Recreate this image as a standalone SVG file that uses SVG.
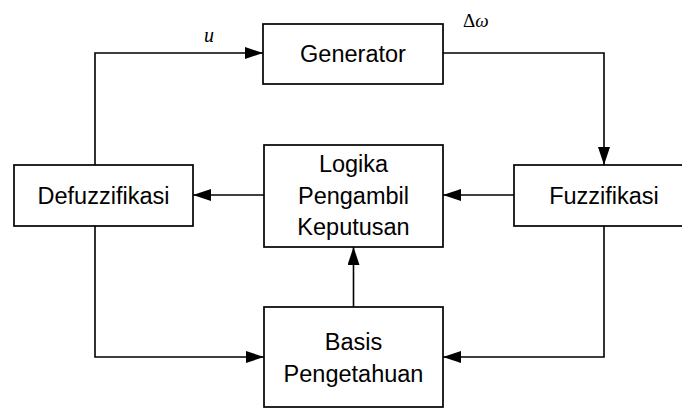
<svg xmlns="http://www.w3.org/2000/svg" width="682" height="408" viewBox="0 0 682 408">
  <style>
    .box { fill: #ffffff; stroke: #000000; stroke-width: 1.7; }
    .lbl { font-family: "Liberation Sans", Arial, sans-serif; font-size: 23.5px; fill: #000000; text-anchor: middle; }
    .sym { font-family: "Liberation Serif", "Times New Roman", serif; font-style: italic; fill: #000000; }
    .wire { fill: none; stroke: #000000; stroke-width: 1.6; }
  </style>
  <defs>
    <marker id="arrow" viewBox="0 0 18 12" refX="18" refY="6" markerWidth="18" markerHeight="12" markerUnits="userSpaceOnUse" orient="auto">
      <path d="M0,0 L18,6 L0,12 Z" fill="#000000"/>
    </marker>
  </defs>
  <rect width="682" height="408" fill="#ffffff"/>

  <!-- signal paths between blocks -->
  <g id="connectors">
    <!-- defuzzifier output u back to the generator -->
    <polyline class="wire" points="95,165 95,53 263,53" marker-end="url(#arrow)"/>
    <!-- generator output to the fuzzifier -->
    <polyline class="wire" points="443,53 604,53 604,165" marker-end="url(#arrow)"/>
    <!-- fuzzifier to inference logic -->
    <line class="wire" x1="514" y1="195" x2="443" y2="195" marker-end="url(#arrow)"/>
    <!-- inference logic to defuzzifier -->
    <line class="wire" x1="264" y1="195" x2="193" y2="195" marker-end="url(#arrow)"/>
    <!-- knowledge base to inference logic -->
    <line class="wire" x1="353.5" y1="307" x2="353.5" y2="247" marker-end="url(#arrow)"/>
    <!-- defuzzifier to knowledge base -->
    <polyline class="wire" points="95,226 95,357 264,357" marker-end="url(#arrow)"/>
    <!-- fuzzifier to knowledge base -->
    <polyline class="wire" points="604,226 604,357 443,357" marker-end="url(#arrow)"/>
    <text class="sym" x="204" y="42" font-size="20">u</text>
    <text class="sym" x="463" y="27" font-size="19"><tspan font-style="normal">Δ</tspan>ω</text>
  </g>

  <g id="generator">
    <rect class="box" x="263" y="24" width="180" height="60"/>
    <text class="lbl" x="353" y="62">Generator</text>
  </g>

  <g id="defuzzifikasi">
    <rect class="box" x="14" y="165" width="179" height="61"/>
    <text class="lbl" x="103.5" y="203.5">Defuzzifikasi</text>
  </g>

  <g id="logika">
    <rect class="box" x="264" y="145" width="179" height="102"/>
    <text class="lbl" x="353.5" y="172">Logika</text>
    <text class="lbl" x="353.5" y="203.5">Pengambil</text>
    <text class="lbl" x="353.5" y="235">Keputusan</text>
  </g>

  <g id="fuzzifikasi">
    <rect class="box" x="514" y="165" width="180" height="61"/>
    <text class="lbl" x="604" y="203.5">Fuzzifikasi</text>
  </g>

  <g id="basis">
    <rect class="box" x="264" y="307" width="179" height="100"/>
    <text class="lbl" x="353.5" y="349.5">Basis</text>
    <text class="lbl" x="353.5" y="381.5">Pengetahuan</text>
  </g>
</svg>
